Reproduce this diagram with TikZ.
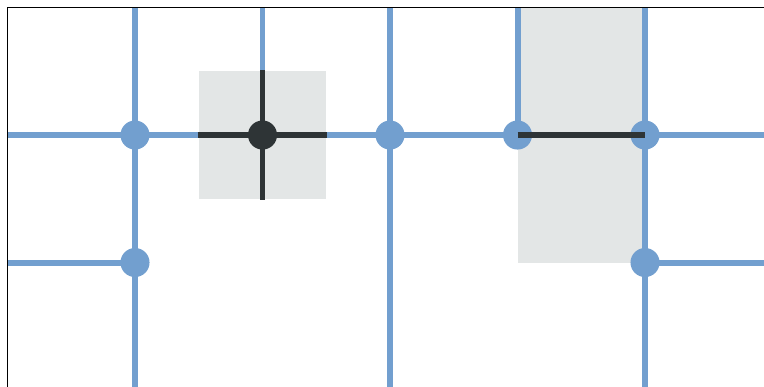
\documentclass[tikz,border=0pt]{standalone}
\usepackage{xcolor}
\usepackage{tikz}
\usetikzlibrary{positioning,backgrounds}
\definecolor{grid_blue}{RGB}{114,159,207}
\definecolor{grid_dark}{RGB}{46,52,54}
\definecolor{grid_gray}{RGB}{227,230,230}

\tikzset{
  vertex/.style={circle, fill=grid_blue, inner sep=0pt, minimum size=0.228cm},
  activevertex/.style={vertex, fill=grid_dark},
  region/.style={rectangle, fill=grid_gray, inner sep=0pt},
  blueedge/.style={grid_blue, line width=1.33pt},
  darkedge/.style={grid_dark, line width=1.33pt}
}

\begin{document}
\begin{tikzpicture}[x=1cm, y=1cm]
        \useasboundingbox (-0.0588,-2.976) rectangle (5.933,0.0588);
        % border points
        \foreach \i in {1,...,5} {
          \coordinate (top\i) at (\i,0);
          \coordinate (bot\i) at (\i,-2.976);
        }
        \coordinate (left1) at (0,-1);
        \coordinate (left2) at (0,-2);
        \coordinate (right1) at (5.933,-1);
        \coordinate (right2) at (5.933,-2);
        % vertices
        \node[vertex] (v11) at (1,-1) {};
        \node[vertex] (v12) at (1,-2) {};
        \node[activevertex] (v21) at (2,-1) {};
        \node[vertex] (v31) at (3,-1) {};
        \node[vertex] (v41) at (4,-1) {};
        \node[vertex] (v51) at (5,-1) {};
        \node[vertex] (v52) at (5,-2) {};
        \begin{pgfonlayer}{background}
          % shaded regions
          \node[region, minimum width=1cm, minimum height=1cm]
            (box1) at (2,-1) {};
          \node[region, minimum width=1cm, minimum height=2cm]
            (box2) at (4.5,-1) {};
          % grid edges
          \draw[blueedge] (top1) -- (v11.center) -- (v12.center) -- (bot1);
          \draw[blueedge] (top2) -- (box1.north);
          \draw[blueedge] (top3) -- (v31.center) -- (bot3);
          \draw[blueedge] (top4) -- (v41.center);
          \draw[blueedge] (top5) -- (v51.center) -- (v52.center) -- (bot5);
          \draw[blueedge] (left1) -- (v11.center) -- (box1.west);
          \draw[blueedge] (box1.east) -- (v31.center) -- (v41.center);
          \draw[blueedge] (v51.center) -- (right1);
          \draw[blueedge] (left2) -- (v12.center);
          \draw[blueedge] (v52.center) -- (right2);
        \end{pgfonlayer}
        % highlighted edges
        \draw[darkedge] (box1.north) -- (v21.center) -- (box1.south);
        \draw[darkedge] (box1.west) -- (v21.center) -- (box1.east);
        \draw[darkedge] (v41.center) -- (v51.center);
        % frame
        \draw[black, line width=0.35pt] (bot1 -| left1) -- (0,0) -- (right1 |- top1);
      \end{tikzpicture}
\end{document}
